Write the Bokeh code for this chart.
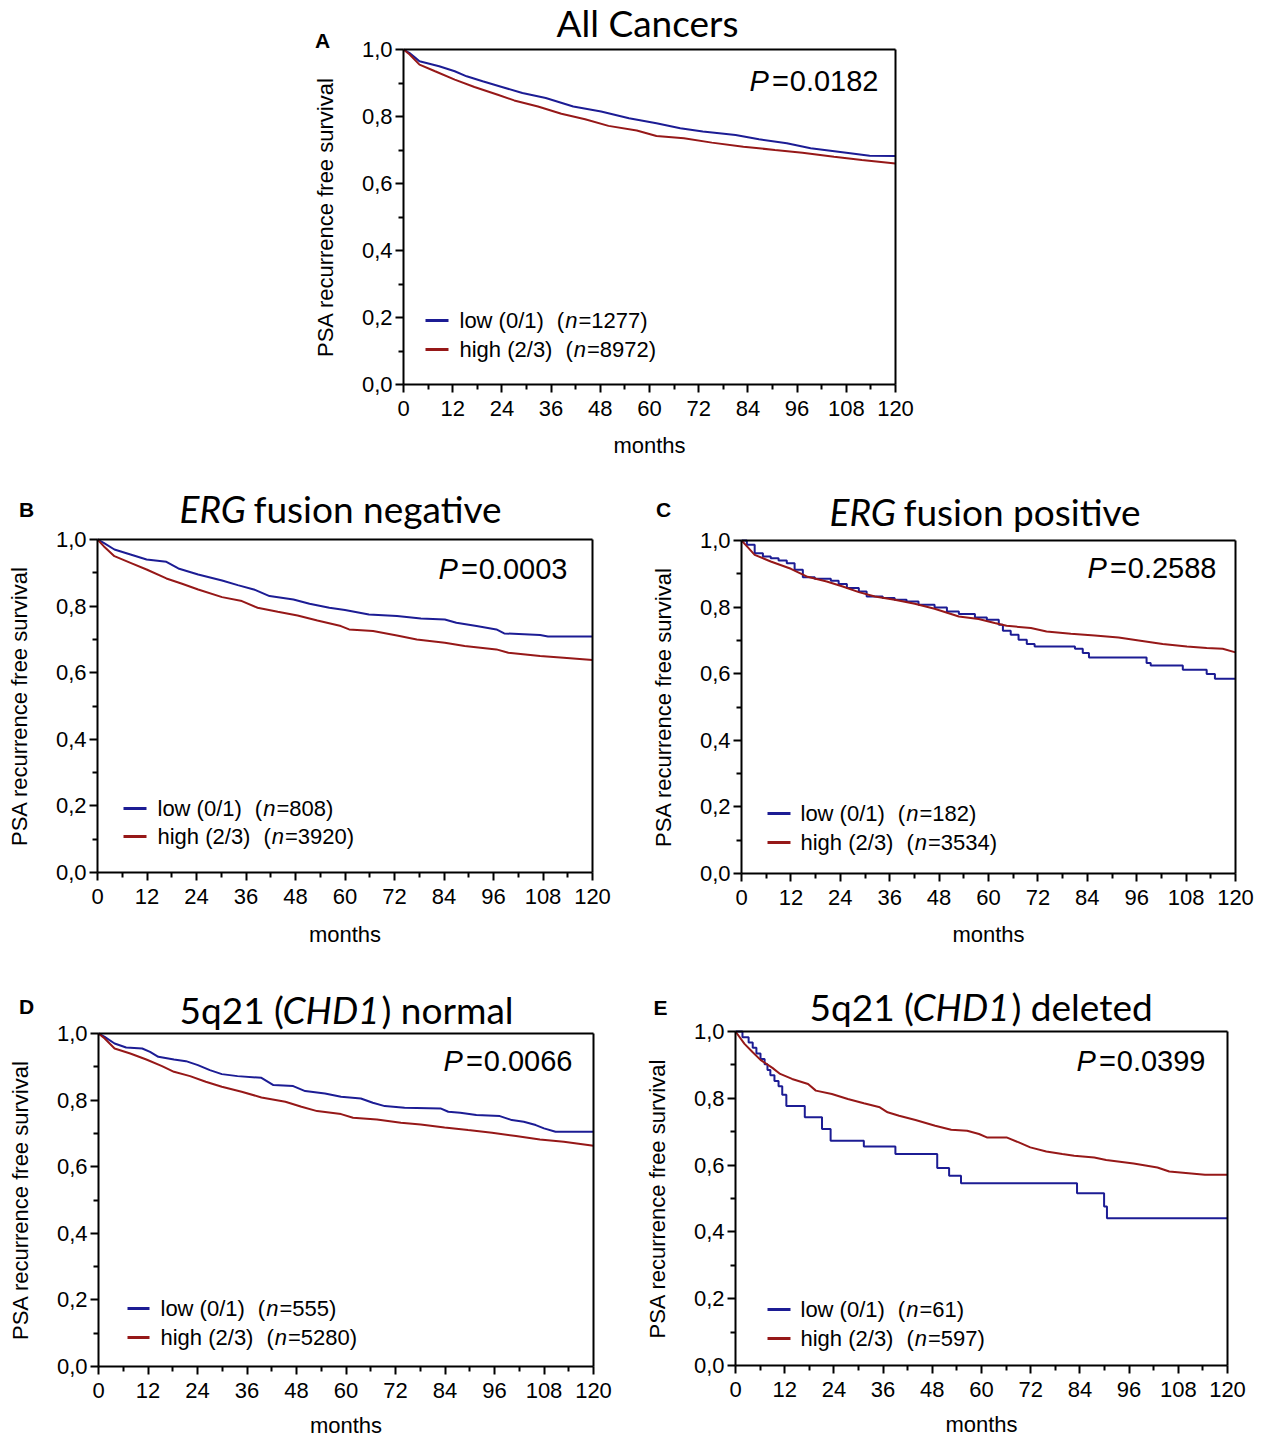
from bokeh.plotting import figure
from bokeh.models import Range1d, FixedTicker, CustomJSTickFormatter, Label, Spacer, LinearAxis
from bokeh.layouts import column, row
from bokeh.embed import file_html
from bokeh.resources import INLINE

# ---------------- data ----------------
MONTH_TICKS = [0, 12, 24, 36, 48, 60, 72, 84, 96, 108, 120]
MONTH_MINOR = [6, 18, 30, 42, 54, 66, 78, 90, 102, 114]
SURV_TICKS = [0.0, 0.2, 0.4, 0.6, 0.8, 1.0]
SURV_MINOR = [0.1, 0.3, 0.5, 0.7, 0.9]
X_LABEL = "months"
Y_LABEL = "PSA recurrence free survival"
GROUPS = ["low (0/1)", "high (2/3)"]

# Panel A - All Cancers
A_N = [1277, 8972]
A_P = "0.0182"
A_LOW_T = [0, 1.4, 2.9, 3.9, 8.7, 12.5, 15.4, 19.3, 24, 29, 34.7, 41.4, 48.2, 55, 61.7, 67.5, 73, 81, 86.7, 93.5, 99.3, 108, 113.7, 120]
A_LOW_S = [1.0, 0.99, 0.975, 0.965, 0.95, 0.935, 0.92, 0.905, 0.888, 0.87, 0.855, 0.83, 0.815, 0.795, 0.78, 0.765, 0.755, 0.745, 0.732, 0.72, 0.705, 0.692, 0.683, 0.682]
A_HIGH_T = [0, 1.5, 3.9, 7.7, 12.5, 17.3, 23, 27, 32.8, 38.5, 44.3, 50, 56.9, 61.7, 68.4, 75.2, 82.9, 90.6, 97.3, 105, 111.8, 120]
A_HIGH_S = [1.0, 0.985, 0.955, 0.935, 0.91, 0.888, 0.865, 0.848, 0.83, 0.808, 0.792, 0.772, 0.758, 0.742, 0.735, 0.722, 0.71, 0.70, 0.692, 0.68, 0.67, 0.66]

# Panel B - ERG fusion negative
B_N = [808, 3920]
B_P = "0.0003"
B_LOW_T = [0, 1.5, 4.1, 8, 11.9, 16.7, 19.6, 24.4, 30.2, 34, 37.9, 41.7, 47.5, 51.4, 56.2, 60, 65.8, 72.6, 78.4, 84.2, 87, 91.9, 96.7, 98.6, 107.3, 109.2, 120]
B_LOW_S = [1.0, 0.99, 0.97, 0.955, 0.94, 0.933, 0.913, 0.895, 0.877, 0.863, 0.85, 0.83, 0.82, 0.807, 0.795, 0.788, 0.775, 0.77, 0.763, 0.76, 0.75, 0.74, 0.73, 0.718, 0.713, 0.709, 0.709]
B_HIGH_T = [0, 1.5, 4.1, 8, 11.9, 16.7, 20.5, 24.4, 30.2, 35, 38.8, 43.7, 48.5, 53.3, 59, 61, 66.8, 72.6, 77.4, 84.2, 89, 96.7, 99.6, 107.3, 113, 120]
B_HIGH_S = [1.0, 0.98, 0.95, 0.93, 0.91, 0.883, 0.867, 0.85, 0.827, 0.815, 0.795, 0.783, 0.772, 0.757, 0.74, 0.73, 0.725, 0.712, 0.70, 0.69, 0.68, 0.67, 0.66, 0.65, 0.645, 0.638]

# Panel C - ERG fusion positive
C_N = [182, 3534]
C_P = "0.2588"
C_LOW_T = [0, 1.3, 3.2, 5.2, 7.1, 9, 11, 12.9, 14.9, 17.8, 21.7, 23.6, 25.6, 28.5, 30.4, 34.3, 37.2, 40.1, 43, 46.9,
           49.9, 52.8, 56.7, 59.6, 62.5, 63.5, 65.4, 67.3, 69.3, 71.2, 81, 82.9, 84.4, 98.4, 99.4, 107.2, 113, 115, 120]
C_LOW_S = [1.0, 0.987, 0.962, 0.952, 0.947, 0.94, 0.932, 0.912, 0.89, 0.885, 0.879, 0.869, 0.857, 0.847, 0.832, 0.827, 0.822, 0.817, 0.807, 0.799,
           0.787, 0.779, 0.769, 0.762, 0.747, 0.729, 0.717, 0.702, 0.689, 0.682, 0.675, 0.662, 0.649, 0.632, 0.625, 0.612, 0.599, 0.585, 0.585]
C_HIGH_T = [0, 1.5, 3.2, 7.1, 12, 15.8, 20.7, 24.6, 28.5, 32.4, 37.2, 42.1, 46.9, 52.8, 57.6, 61.5, 64.4, 70.3, 74.1, 80, 85.8, 91.6, 96.5, 102.3, 108.2, 113, 116.9, 120]
C_HIGH_S = [1.0, 0.98, 0.957, 0.937, 0.915, 0.892, 0.877, 0.862, 0.845, 0.832, 0.822, 0.81, 0.795, 0.772, 0.764, 0.752, 0.744, 0.737, 0.727, 0.72, 0.715, 0.709, 0.70, 0.689, 0.682, 0.677, 0.675, 0.664]

# Panel D - 5q21 (CHD1) normal
D_N = [555, 5280]
D_P = "0.0066"
D_LOW_T = [0, 1.5, 3.9, 6.7, 10.6, 12.5, 14.5, 18.3, 21.2, 24.1, 27, 29.9, 33.7, 39.5, 42.4, 47.2, 50.1, 54.9, 58.8, 63.6, 66.5, 69.4, 74.2, 82.9, 84.8, 87.7, 91.6, 97.3, 100.2, 103.1, 106, 108, 110.8, 120]
D_LOW_S = [1.0, 0.99, 0.97, 0.958, 0.955, 0.945, 0.93, 0.922, 0.917, 0.905, 0.89, 0.878, 0.872, 0.867, 0.845, 0.842, 0.827, 0.82, 0.81, 0.805, 0.792, 0.782, 0.777, 0.775, 0.765, 0.762, 0.755, 0.752, 0.74, 0.735, 0.725, 0.715, 0.705, 0.705]
D_HIGH_T = [0, 1.5, 3.9, 7.7, 11.6, 15.4, 18.3, 22.2, 26, 29.9, 34.7, 39.5, 45.3, 49.2, 53, 58.8, 61.7, 67.5, 73.3, 78.1, 83.9, 89.6, 95.4, 101.2, 107, 112.8, 120]
D_HIGH_S = [1.0, 0.985, 0.955, 0.94, 0.922, 0.902, 0.885, 0.872, 0.855, 0.84, 0.825, 0.808, 0.795, 0.78, 0.767, 0.758, 0.747, 0.742, 0.732, 0.727, 0.718, 0.71, 0.702, 0.692, 0.682, 0.675, 0.663]

# Panel E - 5q21 (CHD1) deleted
E_N = [61, 597]
E_P = "0.0399"
E_LOW_T = [0, 1.7, 3.2, 4.2, 5.1, 6.1, 7.1, 7.8, 8.5, 9.5, 10.5, 11.4, 12.4, 16.9, 21.1, 23.2, 31.3, 39.0, 49.2, 52.1, 55.0, 83.3, 89.9, 90.6, 120]
E_LOW_S = [1.0, 0.983, 0.967, 0.951, 0.934, 0.918, 0.902, 0.885, 0.869, 0.852, 0.836, 0.811, 0.777, 0.743, 0.708, 0.673, 0.656, 0.633, 0.591, 0.568, 0.546, 0.516, 0.476, 0.441, 0.441]
E_HIGH_T = [0, 2.2, 4.2, 6.1, 9, 10.9, 13.8, 17.7, 19.6, 23.5, 27.4, 31.3, 35.2, 37.1, 39.9, 43.9, 48.7, 52.6, 56.5, 59.4, 61.3, 66.1, 69.1, 71.9, 75.8, 79.7, 82.6, 87.5, 90.4, 97.1, 102.9, 105.8, 114.5, 120]
E_HIGH_S = [1.0, 0.963, 0.938, 0.915, 0.891, 0.873, 0.858, 0.843, 0.823, 0.813, 0.798, 0.785, 0.773, 0.758, 0.748, 0.735, 0.718, 0.706, 0.703, 0.693, 0.683, 0.683, 0.668, 0.653, 0.641, 0.633, 0.628, 0.623, 0.615, 0.605, 0.593, 0.581, 0.571, 0.571]

# ---------------- style ----------------
BLUE = "#1c1c94"
RED = "#961818"
SANS = "Liberation Sans"
TITLE_FONT = "Lato"
TITLE_SIZE = "37px"
TITLE_SHIFT = 15          # renderer places the alphabetic baseline this much lower
TICK_SIZE = "22px"
LEG_SIZE = 22
P_SIZE = 29

ARIAL_W = {' ': 278, '(': 333, ')': 333, '/': 278, '=': 584, '.': 278, ',': 278,
           'l': 222, 'o': 556, 'w': 722, 'h': 556, 'i': 222, 'g': 556, 'n': 556, 'P': 667}


def text_w(s, size):
    return sum(ARIAL_W.get(c, 556) for c in s) * size / 1000.0


# page-pixel layout: figure canvas (x, y, w, h) and the 0..120 x 0..1 box (left, right, top, bottom)
GEOM = {
    "A": dict(fig=(290, 0, 640, 468), frame=(403, 895, 49, 384)),
    "B": dict(fig=(0, 468, 640, 487), frame=(97, 592, 539, 872)),
    "C": dict(fig=(640, 468, 622, 487), frame=(741, 1235, 540, 873)),
    "D": dict(fig=(0, 955, 640, 483), frame=(98, 593, 1033, 1366)),
    "E": dict(fig=(640, 955, 622, 483), frame=(735, 1227, 1031, 1365)),
}


def to_data(g, px, py):
    l, r, t, b = g["frame"]
    return (px - l) / (r - l) * 120.0, (b - py) / (b - t)


def add_text(p, g, px, py, text, size, style="normal", align="left", baseline="middle", font=SANS):
    x, y = to_data(g, px, py)
    p.add_layout(Label(x=x, y=y, text=text, text_font=font, text_font_size=size,
                       text_font_style=style, text_align=align, text_baseline=baseline,
                       text_color="black"))


def style_axis(ax):
    ax.axis_line_width = 2
    ax.axis_line_color = "black"
    ax.major_tick_line_width = 2
    ax.minor_tick_line_width = 2
    ax.major_tick_line_color = "black"
    ax.minor_tick_line_color = "black"
    ax.major_tick_in = 0
    ax.major_tick_out = 8
    ax.minor_tick_in = 0
    ax.minor_tick_out = 5
    ax.major_label_text_font = SANS
    ax.major_label_text_font_size = TICK_SIZE
    ax.major_label_text_color = "black"


def box_axis(fixed, bounds):
    return LinearAxis(fixed_location=fixed, bounds=bounds, ticker=FixedTicker(ticks=[]),
                      major_tick_out=0, minor_tick_out=0, major_tick_in=0, minor_tick_in=0,
                      axis_line_width=2, axis_line_color="black",
                      major_label_text_font_size="0px")


def make_panel(key, letter, letter_pos, title_pieces, title_base, series, counts, pval, p_right, p_y,
               leg_swatch, leg_text_x, leg_rows, months_y):
    g = GEOM[key]
    fx, fy, fw, fh = g["fig"]
    l, r, t, b = g["frame"]
    kx = 120.0 / (r - l)
    ky = 1.0 / (b - t)
    x_range = Range1d(-(l - fx) * kx, 120 + (fx + fw - r) * kx)
    y_range = Range1d(-(fy + fh - b) * ky, 1 + (t - fy) * ky)
    p = figure(width=fw, height=fh, x_range=x_range, y_range=y_range,
               output_backend="svg", toolbar_location=None, title=None,
               min_border=0, min_border_left=0, min_border_right=0,
               min_border_top=0, min_border_bottom=0)
    p.xgrid.visible = False
    p.ygrid.visible = False
    p.outline_line_color = None
    p.background_fill_color = "white"
    p.border_fill_color = "white"

    xa = p.xaxis[0]
    ya = p.yaxis[0]
    xa.fixed_location = 0
    ya.fixed_location = 0
    xa.bounds = (0, 120)
    ya.bounds = (0, 1)
    xa.ticker = FixedTicker(ticks=MONTH_TICKS, minor_ticks=MONTH_MINOR)
    ya.ticker = FixedTicker(ticks=SURV_TICKS, minor_ticks=SURV_MINOR)
    ya.formatter = CustomJSTickFormatter(code="return tick.toFixed(1).replace('.', ',');")
    style_axis(xa)
    style_axis(ya)
    xa.major_label_standoff = 8
    ya.major_label_standoff = 3
    ya.axis_label = Y_LABEL
    ya.axis_label_text_font = SANS
    ya.axis_label_text_font_size = "22px"
    ya.axis_label_text_font_style = "normal"
    ya.axis_label_text_color = "black"
    ya.axis_label_standoff = 21
    # remaining sides of the box
    p.add_layout(box_axis(120, (0, 1)), "right")
    p.add_layout(box_axis(1, (0, 120)), "above")

    # curves
    for (tt, ss, kind), col in zip(series, (BLUE, RED)):
        if kind == "step":
            p.step(tt, ss, mode="after", line_color=col, line_width=2)
        else:
            p.line(tt, ss, line_color=col, line_width=2)

    # x-axis title
    add_text(p, g, (l + r) / 2.0, months_y, X_LABEL, "22px", align="center", baseline="middle")

    # panel letter
    add_text(p, g, letter_pos[0], letter_pos[1], letter, "21px", style="bold", align="center")

    # title pieces: (text, style, x, align)
    for txt, st, xx, al in title_pieces:
        add_text(p, g, xx, title_base - TITLE_SHIFT, txt, TITLE_SIZE, style=st, align=al,
                 baseline="alphabetic", font=TITLE_FONT)

    # P value
    w_num = text_w(pval, P_SIZE)
    add_text(p, g, p_right, p_y, pval, "%dpx" % P_SIZE, align="right")
    x_eq = p_right - w_num - 1
    add_text(p, g, x_eq, p_y, "=", "%dpx" % P_SIZE, align="right")
    add_text(p, g, x_eq - text_w("=", P_SIZE) - 3, p_y, "P", "%dpx" % P_SIZE, style="italic", align="right")

    # legend
    sx0, sx1 = leg_swatch
    for grp, n, yy, col in zip(GROUPS, counts, leg_rows, (BLUE, RED)):
        x0, y0 = to_data(g, sx0, yy)
        x1, _ = to_data(g, sx1, yy)
        p.segment(x0=[x0], y0=[y0], x1=[x1], y1=[y0], line_color=col, line_width=3)
        fs = "%dpx" % LEG_SIZE
        add_text(p, g, leg_text_x, yy, grp, fs)
        xp = leg_text_x + text_w(grp, LEG_SIZE) + 13
        add_text(p, g, xp, yy, "(", fs)
        xn = xp + text_w("(", LEG_SIZE) + 1
        add_text(p, g, xn, yy, "n", fs, style="italic")
        xe = xn + text_w("n", LEG_SIZE) + 1
        add_text(p, g, xe, yy, "=%d)" % n, fs)
    return p


pA = make_panel("A", "A", (322, 40), [("All Cancers", "normal", 647, "center")], 37,
                [(A_LOW_T, A_LOW_S, "line"), (A_HIGH_T, A_HIGH_S, "line")], A_N, A_P, 878, 80,
                (425, 448), 459, (320, 349), 445)
pB = make_panel("B", "B", (26, 509), [("ERG", "italic", 179, "left"), ("fusion negative", "normal", 253, "left")], 523,
                [(B_LOW_T, B_LOW_S, "line"), (B_HIGH_T, B_HIGH_S, "line")], B_N, B_P, 567, 568,
                (123, 146), 157, (808, 836), 934)
pC = make_panel("C", "C", (663, 509), [("ERG", "italic", 829, "left"), ("fusion positive", "normal", 903, "left")], 526,
                [(C_LOW_T, C_LOW_S, "step"), (C_HIGH_T, C_HIGH_S, "line")], C_N, C_P, 1216, 567,
                (767, 790), 800, (813, 842), 934)
pD = make_panel("D", "D", (26, 1006), [("5q21 (", "normal", 179, "left"), ("CHD1", "italic", 282, "left"),
                                       (") normal", "normal", 381, "left")], 1024,
                [(D_LOW_T, D_LOW_S, "line"), (D_HIGH_T, D_HIGH_S, "line")], D_N, D_P, 572, 1060,
                (127, 149), 160, (1308, 1337), 1425)
pE = make_panel("E", "E", (660, 1007), [("5q21 (", "normal", 809, "left"), ("CHD1", "italic", 912, "left"),
                                       (") deleted", "normal", 1011, "left")], 1021,
                [(E_LOW_T, E_LOW_S, "step"), (E_HIGH_T, E_HIGH_S, "line")], E_N, E_P, 1205, 1060,
                (767, 790), 800, (1309, 1338), 1424)

layout = column(
    row(Spacer(width=290, height=468), pA),
    row(pB, pC),
    row(pD, pE),
)

open("out.html", "w").write(file_html(layout, INLINE))
